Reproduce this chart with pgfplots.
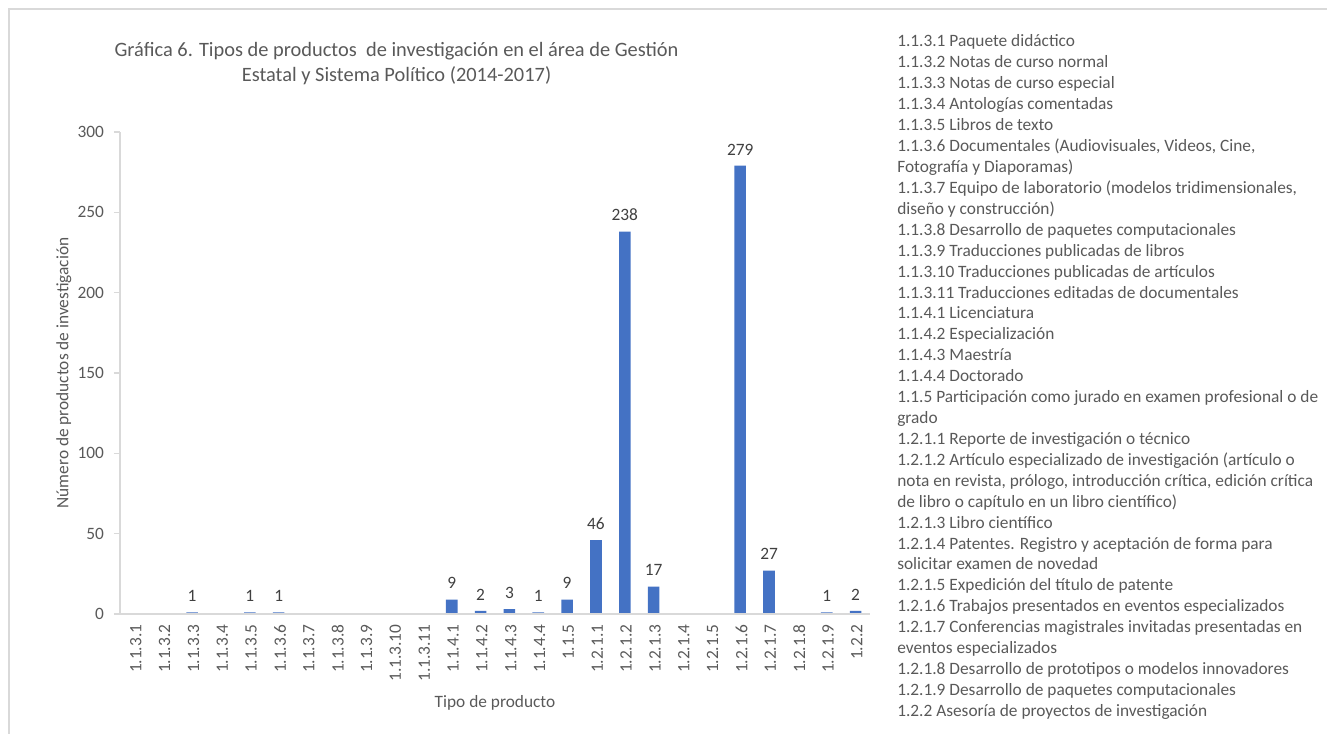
\documentclass[border=0pt]{standalone}
\usepackage{pgfplots}
\pgfplotsset{compat=1.18}
\usepackage{pgfplotstable}
\usepackage{fontspec}
\setmainfont{Carlito}
\definecolor{barblue}{HTML}{4472C4}
\definecolor{txtgray}{HTML}{595959}
\definecolor{lblgray}{HTML}{404040}
\definecolor{axgray}{HTML}{D9D9D9}

\pgfplotstableread{
x y
0 0
1 0
2 1
3 0
4 1
5 1
6 0
7 0
8 0
9 0
10 0
11 9
12 2
13 3
14 1
15 9
16 46
17 238
18 17
19 0
20 0
21 279
22 27
23 0
24 1
25 2
}\datatable

\begin{document}
\begin{tikzpicture}
\useasboundingbox (0,0) rectangle (995.25pt,550.5pt);
\draw[axgray, line width=0.9pt] (6.75pt,-5pt) -- (6.75pt,543.75pt) -- (1000pt,543.75pt);
\begin{axis}[
  at={(90pt,90pt)}, anchor=south west,
  width=562.5pt, height=361.5pt, scale only axis,
  xmin=-0.5, xmax=25.5, ymin=0, ymax=300,
  ytick={0,50,...,300},
  xtick={0,...,25},
  xticklabels={1.1.3.1,1.1.3.2,1.1.3.3,1.1.3.4,1.1.3.5,1.1.3.6,1.1.3.7,1.1.3.8,1.1.3.9,1.1.3.10,1.1.3.11,1.1.4.1,1.1.4.2,1.1.4.3,1.1.4.4,1.1.5,1.2.1.1,1.2.1.2,1.2.1.3,1.2.1.4,1.2.1.5,1.2.1.6,1.2.1.7,1.2.1.8,1.2.1.9,1.2.2},
  x tick label style={rotate=90, anchor=east, font=\fontsize{13}{15}\selectfont, text=txtgray, yshift=-1pt},
  y tick label style={font=\fontsize{13}{15}\selectfont, text=txtgray, xshift=-4pt},
  /pgf/number format/assume math mode=true,
  axis x line*=bottom, axis y line*=left,
  axis on top,
  x axis line style={axgray, line width=0.9pt},
  y axis line style={axgray, line width=0.9pt},
  major x tick style={draw=none},
  major y tick style={axgray, line width=0.9pt},
  tick align=outside,
  major tick length=4.5pt,
  xlabel={Tipo de producto},
  ylabel={Número de productos de investigación},
  xlabel style={at={(axis description cs:0.5,-0.1846)}, anchor=center, font=\fontsize{13}{15}\selectfont, text=txtgray},
  ylabel style={at={(axis description cs:-0.0747,0.5)}, anchor=center, font=\fontsize{13}{15}\selectfont, text=txtgray},
  ybar, bar width=8.7pt,
  nodes near coords={\pgfmathfloatifflags{\pgfplotspointmeta}{0}{}{\pgfmathprintnumber{\pgfplotspointmeta}}},
  nodes near coords style={font=\fontsize{13}{15}\selectfont, text=lblgray, yshift=4.5pt},
]
\addplot[fill=barblue, draw=none] table[x=x, y=y] {\datatable};
\end{axis}
\node[align=center, font=\fontsize{15.3}{18.75}\selectfont, text=txtgray] at (297.4pt,502.6pt)
  {Gráfica 6. Tipos de productos\ \ de investigación en el área de Gestión\\Estatal y Sistema Político (2014-2017)};
\foreach \t [count=\i from 0] in {
{1.1.3.1 Paquete didáctico},
{1.1.3.2 Notas de curso normal},
{1.1.3.3 Notas de curso especial},
{1.1.3.4 Antologías comentadas},
{1.1.3.5 Libros de texto},
{1.1.3.6 Documentales (Audiovisuales, Videos, Cine,},
{Fotografía y Diaporamas)},
{1.1.3.7 Equipo de laboratorio (modelos tridimensionales,},
{diseño y construcción)},
{1.1.3.8 Desarrollo de paquetes computacionales},
{1.1.3.9 Traducciones publicadas de libros},
{1.1.3.10 Traducciones publicadas de artículos},
{1.1.3.11 Traducciones editadas de documentales},
{1.1.4.1 Licenciatura},
{1.1.4.2 Especialización},
{1.1.4.3 Maestría},
{1.1.4.4 Doctorado},
{1.1.5 Participación como jurado en examen profesional o de},
{grado},
{1.2.1.1 Reporte de investigación o técnico},
{1.2.1.2 Artículo especializado de investigación (artículo o},
{nota en revista, prólogo, introducción crítica, edición crítica},
{de libro o capítulo en un libro científico)},
{1.2.1.3 Libro científico},
{1.2.1.4 Patentes. Registro y aceptación de forma para},
{solicitar examen de novedad},
{1.2.1.5 Expedición del título de patente},
{1.2.1.6 Trabajos presentados en eventos especializados},
{1.2.1.7 Conferencias magistrales invitadas presentadas en},
{eventos especializados},
{1.2.1.8 Desarrollo de prototipos o modelos innovadores},
{1.2.1.9 Desarrollo de paquetes computacionales},
{1.2.2 Asesoría de proyectos de investigación}}
{\node[anchor=base west, inner sep=0pt, font=\fontsize{13}{15}\selectfont, text=txtgray] at ({672.75pt},{515.25pt-\i*15.69pt}) {\t};}
\end{tikzpicture}
\end{document}
